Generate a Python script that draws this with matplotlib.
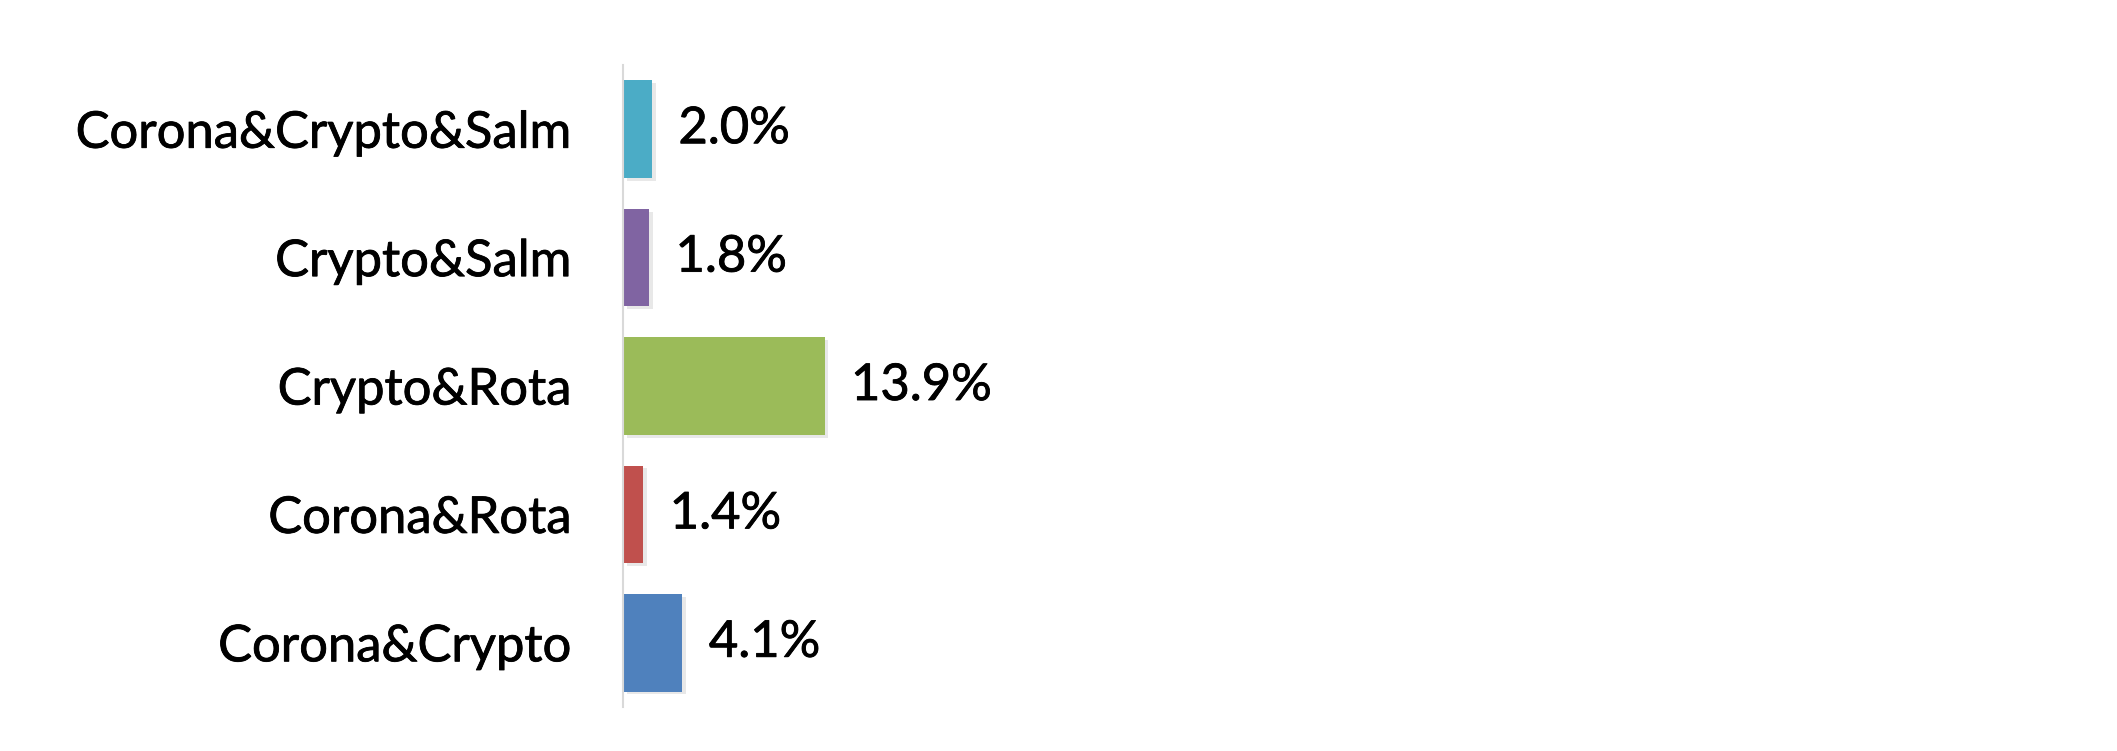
import matplotlib.pyplot as plt
import matplotlib.patheffects as pe

categories = ["Corona&Crypto", "Corona&Rota", "Crypto&Rota", "Crypto&Salm", "Corona&Crypto&Salm"]
values = [4.1, 1.4, 13.9, 1.8, 2.0]
colors = ["#4F81BD", "#C0504D", "#9BBB59", "#8064A2", "#4BACC6"]

plt.rcParams['font.family'] = ['Lato', 'DejaVu Sans']

fig = plt.figure(figsize=(21.17, 7.51), dpi=100)
ax = fig.add_axes([0.2943, 0.0586, 0.685, 0.8548])

bars = ax.barh(categories, values, height=0.76, color=colors)
for b in bars:
    b.set_path_effects([pe.SimplePatchShadow(offset=(2.5, -2), shadow_rgbFace="#999999", alpha=0.22), pe.Normal()])

labels = ax.bar_label(bars, labels=[f"{v:.1f}%" for v in values], padding=19, fontsize=36.5)
for t in labels:
    t.set_path_effects([pe.withStroke(linewidth=0.6, foreground="black")])

ax.set_xlim(0, 100)
ax.set_ylim(-0.5, 4.5)
ax.set_xticks([])
for s in ["top", "right", "bottom"]:
    ax.spines[s].set_visible(False)
ax.spines["left"].set_color("#D9D9D9")
ax.spines["left"].set_linewidth(1.5)
ax.tick_params(axis="y", length=0, pad=37, labelsize=36.5)
for t in ax.get_yticklabels():
    t.set_path_effects([pe.withStroke(linewidth=0.6, foreground="black")])

fig.savefig("out.png", dpi=100)
